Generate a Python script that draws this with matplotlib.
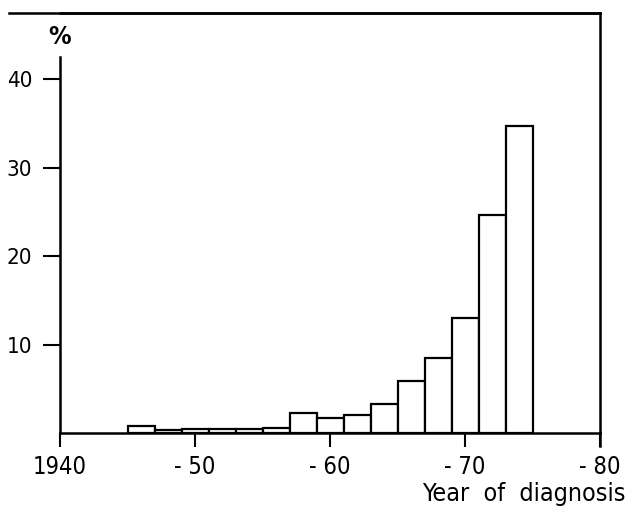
import matplotlib
matplotlib.use('Agg')
import matplotlib.pyplot as plt

# Данные: начало двухлетних интервалов и доля (%)
bin_start = [1945, 1947, 1949, 1951, 1953, 1955, 1957, 1959, 1961, 1963,
             1965, 1967, 1969, 1971, 1973]
pct = [0.75, 0.35, 0.4, 0.45, 0.45, 0.55, 2.3, 1.7, 2.0, 3.3,
       5.9, 8.5, 13.0, 24.7, 34.7]
bin_width = 2

x_ticks = [1940, 1950, 1960, 1970, 1980]
x_tick_labels = ['1940', '- 50', '- 60', '- 70', '- 80']
y_ticks = [10, 20, 30, 40]
y_tick_labels = ['10', '20', '30', '40']

# узкое начертание DejaVu
plt.rcParams['font.family'] = ['DejaVu Sans']
plt.rcParams['font.stretch'] = 'condensed'

fig = plt.figure(figsize=(6.28, 5.14), dpi=100)
ax = fig.add_axes([60 / 628, 81 / 514, 540 / 628, 420 / 514])

ax.bar(bin_start, pct, width=bin_width, align='edge', color='white',
       edgecolor='black', linewidth=1.6)

ax.set_xlim(1940, 1980)
ax.set_ylim(0, 47.5)

ax.set_xticks(x_ticks)
ax.set_xticklabels(x_tick_labels, fontsize=17)
ax.set_yticks(y_ticks)
ax.set_yticklabels(y_tick_labels, fontsize=16)

ax.tick_params(axis='x', direction='out', length=10, width=1.5, pad=6)
ax.tick_params(axis='y', direction='out', length=12, width=1.5, pad=8)

for s in ['left', 'bottom', 'right', 'top']:
    ax.spines[s].set_linewidth(1.8)
ax.spines['left'].set_bounds(0, 42.5)

# верхняя линия уходит левее оси
ax.plot([-0.095, 1.0], [1.0, 1.0], transform=ax.transAxes, color='black',
        linewidth=1.8, clip_on=False)
# хвост правой рамки под осью
ax.plot([1.0, 1.0], [0.0, -0.03], transform=ax.transAxes, color='black',
        linewidth=1.8, clip_on=False)

ax.text(0.0, 44.8, '%', ha='center', va='center', fontsize=18,
        fontweight='bold', transform=ax.get_yaxis_transform())

fig.text(626 / 628, 8 / 514, 'Year  of  diagnosis', ha='right',
         va='bottom', fontsize=18)

fig.savefig('out.png', dpi=100)
